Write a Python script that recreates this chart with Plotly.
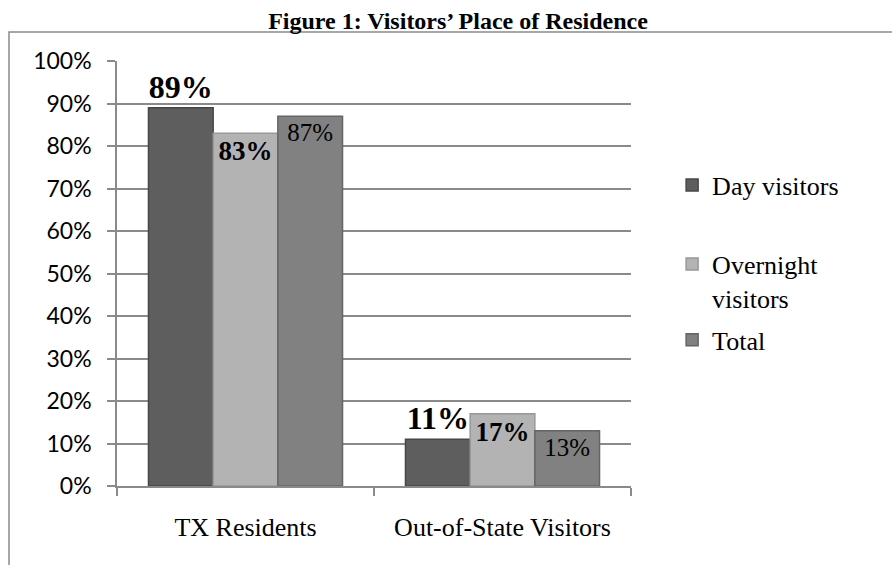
import plotly.graph_objects as go

categories = ["TX Residents", "Out-of-State Visitors"]
series_names = ["Day visitors", "Overnight<br>visitors", "Total"]
day_visitors = [0.89, 0.11]
overnight_visitors = [0.83, 0.17]
total_visitors = [0.87, 0.13]
y_ticks = [0, 0.1, 0.2, 0.3, 0.4, 0.5, 0.6, 0.7, 0.8, 0.9, 1.0]

SERIF = "Liberation Serif, Times New Roman, serif"
SANS = "Lato, Carlito, Calibri, sans-serif"

fills = ["#5e5e5e", "#b3b3b3", "#818181"]
edges = ["#474747", "#989898", "#656565"]
text_pos = ["outside", "inside", "inside"]
text_fonts = [
    dict(family=SERIF, size=32, color="black", weight="bold"),
    dict(family=SERIF, size=27, color="black", weight="bold"),
    dict(family=SERIF, size=25, color="black"),
]
values = [day_visitors, overnight_visitors, total_visitors]
legend_ids = ["legend", "legend2", "legend3"]
legend_y = [0.708, 0.482, 0.344]

fig = go.Figure()
for i, (name, vals) in enumerate(zip(series_names, values)):
    fig.add_trace(go.Bar(
        x=categories, y=vals, name=name,
        legend=legend_ids[i],
        marker=dict(color=fills[i], line=dict(color=edges[i], width=1.5)),
        texttemplate="%{y:.0%}",
        textposition=text_pos[i],
        insidetextanchor="end",
        textfont=text_fonts[i],
        outsidetextfont=text_fonts[i],
        insidetextfont=text_fonts[i],
        cliponaxis=False,
    ))

legend_common = dict(x=1.08, xanchor="left", yanchor="middle", valign="top",
                     font=dict(family=SERIF, size=26, color="black"),
                     itemwidth=30, bgcolor="rgba(0,0,0,0)")

fig.update_layout(
    width=892, height=565,
    margin=dict(l=117, r=261, t=61, b=79),
    paper_bgcolor="white", plot_bgcolor="white",
    barmode="group", bargap=0.245, bargroupgap=0,
    title=dict(text="<b>Figure 1: Visitors’ Place of Residence</b>",
               x=458 / 892, xref="container", xanchor="center",
               y=1 - 21 / 565, yanchor="middle", yref="container",
               font=dict(family=SERIF, size=24, color="black")),
    showlegend=True,
    legend=dict(y=legend_y[0], **legend_common),
    legend2=dict(y=legend_y[1], **legend_common),
    legend3=dict(y=legend_y[2], **legend_common),
    xaxis=dict(showline=True, linecolor="#8a8a8a", linewidth=1.5,
               ticks="outside", tickson="boundaries", ticklen=8,
               tickcolor="#8a8a8a", tickwidth=1.5,
               tickfont=dict(family=SERIF, size=26, color="black"),
               ticklabelstandoff=17, showgrid=False),
    yaxis=dict(range=[0, 1], tickvals=y_ticks, tickformat=".0%",
               showline=True, linecolor="#8a8a8a", linewidth=1.5,
               ticks="outside", ticklen=8, tickcolor="#8a8a8a", tickwidth=1.5,
               showgrid=True, gridcolor="#8a8a8a", gridwidth=1.5,
               zeroline=False, ticklabelstandoff=11,
               tickfont=dict(family=SANS, size=23, color="black")),
)

# outer chart frame
fig.add_shape(type="rect", xref="paper", yref="paper",
              x0=(9 - 117) / 514, x1=(910 - 117) / 514,
              y0=(486 - 590) / 425, y1=(486 - 32) / 425,
              line=dict(color="#8a8a8a", width=1.5), fillcolor="rgba(0,0,0,0)",
              layer="below")

fig.write_html(
    "out.html",
    config={"displayModeBar": False},
    post_script="document.body.style.margin='0';document.body.style.overflow='hidden';",
)
